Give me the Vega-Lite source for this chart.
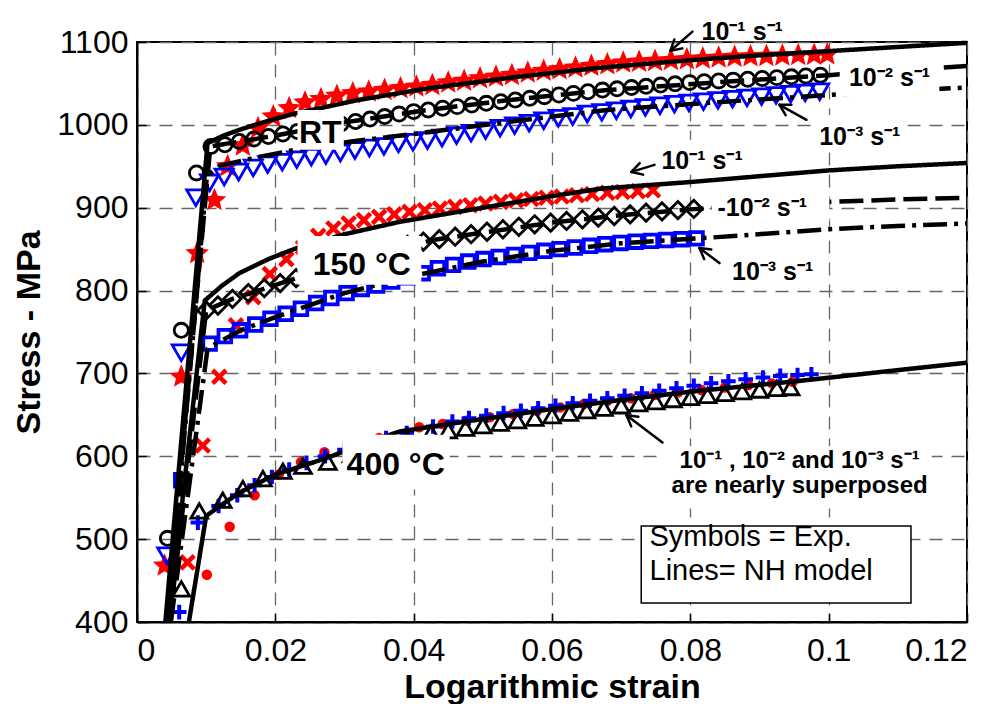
{
  "$schema": "https://vega.github.io/schema/vega-lite/v6.json",
  "width": 830,
  "height": 580,
  "autosize": {"type": "none"},
  "padding": {"left": 137, "top": 42, "right": 38, "bottom": 82},
  "background": "white",
  "config": {
    "view": {"stroke": "black", "strokeWidth": 2},
    "font": "Liberation Sans",
    "axis": {
      "domainColor": "black",
      "domainWidth": 2,
      "tickColor": "black",
      "tickWidth": 1.5,
      "tickSize": -9,
      "labelColor": "black",
      "labelFontSize": 32,
      "labelFont": "Liberation Sans",
      "titleColor": "black",
      "titleFont": "Liberation Sans",
      "titleFontSize": 34,
      "titleFontWeight": "bold",
      "gridColor": "#666666",
      "gridWidth": 1.3,
      "gridDash": [13, 9]
    }
  },
  "datasets": {
    "exp": [
      {"series": "RT 0.1", "strain": 0.0040, "stress": 468},
      {"series": "RT 0.1", "strain": 0.0064, "stress": 696},
      {"series": "RT 0.1", "strain": 0.0087, "stress": 845},
      {"series": "RT 0.1", "strain": 0.0112, "stress": 909},
      {"series": "RT 0.1", "strain": 0.0131, "stress": 950},
      {"series": "RT 0.1", "strain": 0.0153, "stress": 975},
      {"series": "RT 0.1", "strain": 0.0175, "stress": 996},
      {"series": "RT 0.1", "strain": 0.0197, "stress": 1010},
      {"series": "RT 0.1", "strain": 0.0220, "stress": 1020},
      {"series": "RT 0.1", "strain": 0.0243, "stress": 1027},
      {"series": "RT 0.1", "strain": 0.0266, "stress": 1031},
      {"series": "RT 0.1", "strain": 0.0289, "stress": 1035},
      {"series": "RT 0.1", "strain": 0.0312, "stress": 1038},
      {"series": "RT 0.1", "strain": 0.0335, "stress": 1040},
      {"series": "RT 0.1", "strain": 0.0358, "stress": 1042},
      {"series": "RT 0.1", "strain": 0.0381, "stress": 1044},
      {"series": "RT 0.1", "strain": 0.0404, "stress": 1046},
      {"series": "RT 0.1", "strain": 0.0427, "stress": 1048},
      {"series": "RT 0.1", "strain": 0.0450, "stress": 1051},
      {"series": "RT 0.1", "strain": 0.0473, "stress": 1053},
      {"series": "RT 0.1", "strain": 0.0496, "stress": 1056},
      {"series": "RT 0.1", "strain": 0.0519, "stress": 1058},
      {"series": "RT 0.1", "strain": 0.0542, "stress": 1060},
      {"series": "RT 0.1", "strain": 0.0565, "stress": 1063},
      {"series": "RT 0.1", "strain": 0.0588, "stress": 1065},
      {"series": "RT 0.1", "strain": 0.0611, "stress": 1067},
      {"series": "RT 0.1", "strain": 0.0634, "stress": 1069},
      {"series": "RT 0.1", "strain": 0.0657, "stress": 1071},
      {"series": "RT 0.1", "strain": 0.0680, "stress": 1073},
      {"series": "RT 0.1", "strain": 0.0703, "stress": 1075},
      {"series": "RT 0.1", "strain": 0.0726, "stress": 1076},
      {"series": "RT 0.1", "strain": 0.0749, "stress": 1077},
      {"series": "RT 0.1", "strain": 0.0772, "stress": 1078},
      {"series": "RT 0.1", "strain": 0.0795, "stress": 1079},
      {"series": "RT 0.1", "strain": 0.0818, "stress": 1080},
      {"series": "RT 0.1", "strain": 0.0841, "stress": 1081},
      {"series": "RT 0.1", "strain": 0.0864, "stress": 1082},
      {"series": "RT 0.1", "strain": 0.0887, "stress": 1082.5},
      {"series": "RT 0.1", "strain": 0.0910, "stress": 1083},
      {"series": "RT 0.1", "strain": 0.0933, "stress": 1083.5},
      {"series": "RT 0.1", "strain": 0.0956, "stress": 1084},
      {"series": "RT 0.1", "strain": 0.0979, "stress": 1084.5},
      {"series": "RT 0.1", "strain": 0.0998, "stress": 1085},

      {"series": "RT 0.01", "strain": 0.0044, "stress": 501},
      {"series": "RT 0.01", "strain": 0.0064, "stress": 752},
      {"series": "RT 0.01", "strain": 0.0086, "stress": 942},
      {"series": "RT 0.01", "strain": 0.0107, "stress": 974},
      {"series": "RT 0.01", "strain": 0.0127, "stress": 976},
      {"series": "RT 0.01", "strain": 0.0148, "stress": 980},
      {"series": "RT 0.01", "strain": 0.0169, "stress": 983},
      {"series": "RT 0.01", "strain": 0.0190, "stress": 986},
      {"series": "RT 0.01", "strain": 0.0211, "stress": 989},
      {"series": "RT 0.01", "strain": 0.0232, "stress": 992},
      {"series": "RT 0.01", "strain": 0.0253, "stress": 995},
      {"series": "RT 0.01", "strain": 0.0274, "stress": 998},
      {"series": "RT 0.01", "strain": 0.0295, "stress": 1001},
      {"series": "RT 0.01", "strain": 0.0316, "stress": 1004},
      {"series": "RT 0.01", "strain": 0.0337, "stress": 1007},
      {"series": "RT 0.01", "strain": 0.0358, "stress": 1010},
      {"series": "RT 0.01", "strain": 0.0379, "stress": 1013},
      {"series": "RT 0.01", "strain": 0.0400, "stress": 1016},
      {"series": "RT 0.01", "strain": 0.0421, "stress": 1018},
      {"series": "RT 0.01", "strain": 0.0442, "stress": 1020},
      {"series": "RT 0.01", "strain": 0.0463, "stress": 1022},
      {"series": "RT 0.01", "strain": 0.0484, "stress": 1024},
      {"series": "RT 0.01", "strain": 0.0505, "stress": 1026},
      {"series": "RT 0.01", "strain": 0.0526, "stress": 1028},
      {"series": "RT 0.01", "strain": 0.0547, "stress": 1030},
      {"series": "RT 0.01", "strain": 0.0568, "stress": 1032},
      {"series": "RT 0.01", "strain": 0.0589, "stress": 1034},
      {"series": "RT 0.01", "strain": 0.0610, "stress": 1036},
      {"series": "RT 0.01", "strain": 0.0631, "stress": 1038},
      {"series": "RT 0.01", "strain": 0.0652, "stress": 1040},
      {"series": "RT 0.01", "strain": 0.0673, "stress": 1042},
      {"series": "RT 0.01", "strain": 0.0694, "stress": 1043.5},
      {"series": "RT 0.01", "strain": 0.0715, "stress": 1045},
      {"series": "RT 0.01", "strain": 0.0736, "stress": 1046.5},
      {"series": "RT 0.01", "strain": 0.0757, "stress": 1048},
      {"series": "RT 0.01", "strain": 0.0778, "stress": 1049.5},
      {"series": "RT 0.01", "strain": 0.0799, "stress": 1051},
      {"series": "RT 0.01", "strain": 0.0820, "stress": 1052},
      {"series": "RT 0.01", "strain": 0.0841, "stress": 1053},
      {"series": "RT 0.01", "strain": 0.0862, "stress": 1054},
      {"series": "RT 0.01", "strain": 0.0883, "stress": 1055},
      {"series": "RT 0.01", "strain": 0.0904, "stress": 1056},
      {"series": "RT 0.01", "strain": 0.0925, "stress": 1057},
      {"series": "RT 0.01", "strain": 0.0946, "stress": 1058},
      {"series": "RT 0.01", "strain": 0.0967, "stress": 1059},
      {"series": "RT 0.01", "strain": 0.0988, "stress": 1060},

      {"series": "RT 0.001", "strain": 0.0043, "stress": 480},
      {"series": "RT 0.001", "strain": 0.0064, "stress": 725},
      {"series": "RT 0.001", "strain": 0.0085, "stress": 912},
      {"series": "RT 0.001", "strain": 0.0105, "stress": 930},
      {"series": "RT 0.001", "strain": 0.0126, "stress": 937},
      {"series": "RT 0.001", "strain": 0.0147, "stress": 943},
      {"series": "RT 0.001", "strain": 0.0168, "stress": 948},
      {"series": "RT 0.001", "strain": 0.0189, "stress": 952},
      {"series": "RT 0.001", "strain": 0.0210, "stress": 955},
      {"series": "RT 0.001", "strain": 0.0231, "stress": 958},
      {"series": "RT 0.001", "strain": 0.0252, "stress": 961},
      {"series": "RT 0.001", "strain": 0.0273, "stress": 963},
      {"series": "RT 0.001", "strain": 0.0294, "stress": 966},
      {"series": "RT 0.001", "strain": 0.0315, "stress": 969},
      {"series": "RT 0.001", "strain": 0.0336, "stress": 972},
      {"series": "RT 0.001", "strain": 0.0357, "stress": 974},
      {"series": "RT 0.001", "strain": 0.0378, "stress": 977},
      {"series": "RT 0.001", "strain": 0.0399, "stress": 979},
      {"series": "RT 0.001", "strain": 0.0420, "stress": 981},
      {"series": "RT 0.001", "strain": 0.0441, "stress": 984},
      {"series": "RT 0.001", "strain": 0.0462, "stress": 987},
      {"series": "RT 0.001", "strain": 0.0483, "stress": 990},
      {"series": "RT 0.001", "strain": 0.0504, "stress": 993},
      {"series": "RT 0.001", "strain": 0.0525, "stress": 996},
      {"series": "RT 0.001", "strain": 0.0546, "stress": 999},
      {"series": "RT 0.001", "strain": 0.0567, "stress": 1002},
      {"series": "RT 0.001", "strain": 0.0588, "stress": 1005},
      {"series": "RT 0.001", "strain": 0.0609, "stress": 1008},
      {"series": "RT 0.001", "strain": 0.0630, "stress": 1010},
      {"series": "RT 0.001", "strain": 0.0651, "stress": 1013},
      {"series": "RT 0.001", "strain": 0.0672, "stress": 1015},
      {"series": "RT 0.001", "strain": 0.0693, "stress": 1017},
      {"series": "RT 0.001", "strain": 0.0714, "stress": 1019},
      {"series": "RT 0.001", "strain": 0.0735, "stress": 1021},
      {"series": "RT 0.001", "strain": 0.0756, "stress": 1023},
      {"series": "RT 0.001", "strain": 0.0777, "stress": 1025},
      {"series": "RT 0.001", "strain": 0.0798, "stress": 1026.5},
      {"series": "RT 0.001", "strain": 0.0819, "stress": 1028},
      {"series": "RT 0.001", "strain": 0.0840, "stress": 1029.5},
      {"series": "RT 0.001", "strain": 0.0861, "stress": 1031},
      {"series": "RT 0.001", "strain": 0.0882, "stress": 1032.5},
      {"series": "RT 0.001", "strain": 0.0903, "stress": 1034},
      {"series": "RT 0.001", "strain": 0.0924, "stress": 1035.5},
      {"series": "RT 0.001", "strain": 0.0945, "stress": 1037},
      {"series": "RT 0.001", "strain": 0.0966, "stress": 1038.5},
      {"series": "RT 0.001", "strain": 0.0987, "stress": 1040},

      {"series": "150 0.1", "strain": 0.0073, "stress": 472},
      {"series": "150 0.1", "strain": 0.0095, "stress": 613},
      {"series": "150 0.1", "strain": 0.0119, "stress": 696},
      {"series": "150 0.1", "strain": 0.0143, "stress": 758},
      {"series": "150 0.1", "strain": 0.0168, "stress": 792},
      {"series": "150 0.1", "strain": 0.0192, "stress": 820},
      {"series": "150 0.1", "strain": 0.0216, "stress": 838},
      {"series": "150 0.1", "strain": 0.0240, "stress": 852},
      {"series": "150 0.1", "strain": 0.0262, "stress": 866},
      {"series": "150 0.1", "strain": 0.0284, "stress": 875},
      {"series": "150 0.1", "strain": 0.0306, "stress": 881},
      {"series": "150 0.1", "strain": 0.0328, "stress": 885},
      {"series": "150 0.1", "strain": 0.0350, "stress": 889},
      {"series": "150 0.1", "strain": 0.0372, "stress": 892},
      {"series": "150 0.1", "strain": 0.0394, "stress": 895},
      {"series": "150 0.1", "strain": 0.0416, "stress": 897},
      {"series": "150 0.1", "strain": 0.0438, "stress": 899},
      {"series": "150 0.1", "strain": 0.0460, "stress": 901},
      {"series": "150 0.1", "strain": 0.0482, "stress": 903},
      {"series": "150 0.1", "strain": 0.0504, "stress": 905},
      {"series": "150 0.1", "strain": 0.0526, "stress": 907},
      {"series": "150 0.1", "strain": 0.0548, "stress": 909},
      {"series": "150 0.1", "strain": 0.0570, "stress": 910.5},
      {"series": "150 0.1", "strain": 0.0592, "stress": 912},
      {"series": "150 0.1", "strain": 0.0614, "stress": 913.5},
      {"series": "150 0.1", "strain": 0.0636, "stress": 915},
      {"series": "150 0.1", "strain": 0.0658, "stress": 916.5},
      {"series": "150 0.1", "strain": 0.0680, "stress": 918},
      {"series": "150 0.1", "strain": 0.0702, "stress": 919},
      {"series": "150 0.1", "strain": 0.0724, "stress": 920},
      {"series": "150 0.1", "strain": 0.0746, "stress": 921},

      {"series": "150 0.01", "strain": 0.0100, "stress": 776},
      {"series": "150 0.01", "strain": 0.0117, "stress": 782},
      {"series": "150 0.01", "strain": 0.0138, "stress": 790},
      {"series": "150 0.01", "strain": 0.0161, "stress": 797},
      {"series": "150 0.01", "strain": 0.0184, "stress": 803},
      {"series": "150 0.01", "strain": 0.0207, "stress": 809},
      {"series": "150 0.01", "strain": 0.0230, "stress": 815},
      {"series": "150 0.01", "strain": 0.0253, "stress": 821},
      {"series": "150 0.01", "strain": 0.0276, "stress": 827},
      {"series": "150 0.01", "strain": 0.0299, "stress": 833},
      {"series": "150 0.01", "strain": 0.0322, "stress": 839},
      {"series": "150 0.01", "strain": 0.0345, "stress": 845},
      {"series": "150 0.01", "strain": 0.0368, "stress": 850},
      {"series": "150 0.01", "strain": 0.0391, "stress": 855},
      {"series": "150 0.01", "strain": 0.0414, "stress": 859},
      {"series": "150 0.01", "strain": 0.0437, "stress": 862},
      {"series": "150 0.01", "strain": 0.0460, "stress": 865},
      {"series": "150 0.01", "strain": 0.0483, "stress": 868},
      {"series": "150 0.01", "strain": 0.0506, "stress": 871},
      {"series": "150 0.01", "strain": 0.0529, "stress": 874},
      {"series": "150 0.01", "strain": 0.0552, "stress": 877},
      {"series": "150 0.01", "strain": 0.0575, "stress": 880},
      {"series": "150 0.01", "strain": 0.0598, "stress": 882},
      {"series": "150 0.01", "strain": 0.0621, "stress": 884},
      {"series": "150 0.01", "strain": 0.0644, "stress": 886},
      {"series": "150 0.01", "strain": 0.0667, "stress": 888},
      {"series": "150 0.01", "strain": 0.0690, "stress": 890},
      {"series": "150 0.01", "strain": 0.0713, "stress": 892},
      {"series": "150 0.01", "strain": 0.0736, "stress": 894},
      {"series": "150 0.01", "strain": 0.0759, "stress": 895.5},
      {"series": "150 0.01", "strain": 0.0782, "stress": 897},
      {"series": "150 0.01", "strain": 0.0805, "stress": 898.5},

      {"series": "150 0.001", "strain": 0.0064, "stress": 571},
      {"series": "150 0.001", "strain": 0.0105, "stress": 736},
      {"series": "150 0.001", "strain": 0.0127, "stress": 745},
      {"series": "150 0.001", "strain": 0.0149, "stress": 752},
      {"series": "150 0.001", "strain": 0.0171, "stress": 759},
      {"series": "150 0.001", "strain": 0.0193, "stress": 766},
      {"series": "150 0.001", "strain": 0.0215, "stress": 772},
      {"series": "150 0.001", "strain": 0.0237, "stress": 778},
      {"series": "150 0.001", "strain": 0.0259, "stress": 785},
      {"series": "150 0.001", "strain": 0.0281, "stress": 791},
      {"series": "150 0.001", "strain": 0.0303, "stress": 797},
      {"series": "150 0.001", "strain": 0.0325, "stress": 802},
      {"series": "150 0.001", "strain": 0.0347, "stress": 806},
      {"series": "150 0.001", "strain": 0.0369, "stress": 811},
      {"series": "150 0.001", "strain": 0.0391, "stress": 816},
      {"series": "150 0.001", "strain": 0.0413, "stress": 821},
      {"series": "150 0.001", "strain": 0.0435, "stress": 827},
      {"series": "150 0.001", "strain": 0.0457, "stress": 831},
      {"series": "150 0.001", "strain": 0.0479, "stress": 835},
      {"series": "150 0.001", "strain": 0.0501, "stress": 838},
      {"series": "150 0.001", "strain": 0.0523, "stress": 840.5},
      {"series": "150 0.001", "strain": 0.0545, "stress": 843},
      {"series": "150 0.001", "strain": 0.0567, "stress": 845.5},
      {"series": "150 0.001", "strain": 0.0589, "stress": 848},
      {"series": "150 0.001", "strain": 0.0611, "stress": 850},
      {"series": "150 0.001", "strain": 0.0633, "stress": 852},
      {"series": "150 0.001", "strain": 0.0655, "stress": 854},
      {"series": "150 0.001", "strain": 0.0677, "stress": 856},
      {"series": "150 0.001", "strain": 0.0699, "stress": 857.5},
      {"series": "150 0.001", "strain": 0.0721, "stress": 859},
      {"series": "150 0.001", "strain": 0.0743, "stress": 860},
      {"series": "150 0.001", "strain": 0.0765, "stress": 861},
      {"series": "150 0.001", "strain": 0.0787, "stress": 862},
      {"series": "150 0.001", "strain": 0.0809, "stress": 863},

      {"series": "400 0.1", "strain": 0.0101, "stress": 457},
      {"series": "400 0.1", "strain": 0.0134, "stress": 515},
      {"series": "400 0.1", "strain": 0.0170, "stress": 553},
      {"series": "400 0.1", "strain": 0.0205, "stress": 578},
      {"series": "400 0.1", "strain": 0.0237, "stress": 593},
      {"series": "400 0.1", "strain": 0.0271, "stress": 605},
      {"series": "400 0.1", "strain": 0.0310, "stress": 614},
      {"series": "400 0.1", "strain": 0.0350, "stress": 622},
      {"series": "400 0.1", "strain": 0.0408, "stress": 635},
      {"series": "400 0.1", "strain": 0.0442, "stress": 639},
      {"series": "400 0.1", "strain": 0.0476, "stress": 643},
      {"series": "400 0.1", "strain": 0.0510, "stress": 647},
      {"series": "400 0.1", "strain": 0.0544, "stress": 651},
      {"series": "400 0.1", "strain": 0.0578, "stress": 655},
      {"series": "400 0.1", "strain": 0.0612, "stress": 659},
      {"series": "400 0.1", "strain": 0.0646, "stress": 663},
      {"series": "400 0.1", "strain": 0.0680, "stress": 667},
      {"series": "400 0.1", "strain": 0.0714, "stress": 670},
      {"series": "400 0.1", "strain": 0.0748, "stress": 674},
      {"series": "400 0.1", "strain": 0.0782, "stress": 677},
      {"series": "400 0.1", "strain": 0.0816, "stress": 680},
      {"series": "400 0.1", "strain": 0.0850, "stress": 683},
      {"series": "400 0.1", "strain": 0.0884, "stress": 686},
      {"series": "400 0.1", "strain": 0.0918, "stress": 688},
      {"series": "400 0.1", "strain": 0.0948, "stress": 690},

      {"series": "400 0.01", "strain": 0.0061, "stress": 412},
      {"series": "400 0.01", "strain": 0.0088, "stress": 520},
      {"series": "400 0.01", "strain": 0.0118, "stress": 540},
      {"series": "400 0.01", "strain": 0.0145, "stress": 553},
      {"series": "400 0.01", "strain": 0.0170, "stress": 565},
      {"series": "400 0.01", "strain": 0.0195, "stress": 575},
      {"series": "400 0.01", "strain": 0.0220, "stress": 584},
      {"series": "400 0.01", "strain": 0.0245, "stress": 592},
      {"series": "400 0.01", "strain": 0.0272, "stress": 600},
      {"series": "400 0.01", "strain": 0.0300, "stress": 608},
      {"series": "400 0.01", "strain": 0.0330, "stress": 615},
      {"series": "400 0.01", "strain": 0.0360, "stress": 622},
      {"series": "400 0.01", "strain": 0.0390, "stress": 628},
      {"series": "400 0.01", "strain": 0.0428, "stress": 636},
      {"series": "400 0.01", "strain": 0.0456, "stress": 642},
      {"series": "400 0.01", "strain": 0.0480, "stress": 646},
      {"series": "400 0.01", "strain": 0.0505, "stress": 649},
      {"series": "400 0.01", "strain": 0.0530, "stress": 652},
      {"series": "400 0.01", "strain": 0.0555, "stress": 655},
      {"series": "400 0.01", "strain": 0.0580, "stress": 658},
      {"series": "400 0.01", "strain": 0.0605, "stress": 661},
      {"series": "400 0.01", "strain": 0.0630, "stress": 664},
      {"series": "400 0.01", "strain": 0.0655, "stress": 667},
      {"series": "400 0.01", "strain": 0.0680, "stress": 670},
      {"series": "400 0.01", "strain": 0.0705, "stress": 673},
      {"series": "400 0.01", "strain": 0.0730, "stress": 676},
      {"series": "400 0.01", "strain": 0.0755, "stress": 679},
      {"series": "400 0.01", "strain": 0.0780, "stress": 682},
      {"series": "400 0.01", "strain": 0.0805, "stress": 685},
      {"series": "400 0.01", "strain": 0.0830, "stress": 688},
      {"series": "400 0.01", "strain": 0.0855, "stress": 690.5},
      {"series": "400 0.01", "strain": 0.0880, "stress": 693},
      {"series": "400 0.01", "strain": 0.0905, "stress": 695},
      {"series": "400 0.01", "strain": 0.0930, "stress": 697},
      {"series": "400 0.01", "strain": 0.0955, "stress": 698},
      {"series": "400 0.01", "strain": 0.0975, "stress": 699},

      {"series": "400 0.001", "strain": 0.0064, "stress": 440},
      {"series": "400 0.001", "strain": 0.0090, "stress": 534},
      {"series": "400 0.001", "strain": 0.0124, "stress": 547},
      {"series": "400 0.001", "strain": 0.0153, "stress": 561},
      {"series": "400 0.001", "strain": 0.0182, "stress": 573},
      {"series": "400 0.001", "strain": 0.0211, "stress": 582},
      {"series": "400 0.001", "strain": 0.0240, "stress": 588},
      {"series": "400 0.001", "strain": 0.0276, "stress": 593},
      {"series": "400 0.001", "strain": 0.0310, "stress": 602},
      {"series": "400 0.001", "strain": 0.0350, "stress": 612},
      {"series": "400 0.001", "strain": 0.0390, "stress": 621},
      {"series": "400 0.001", "strain": 0.0425, "stress": 628},
      {"series": "400 0.001", "strain": 0.0450, "stress": 631},
      {"series": "400 0.001", "strain": 0.0475, "stress": 634},
      {"series": "400 0.001", "strain": 0.0500, "stress": 637},
      {"series": "400 0.001", "strain": 0.0525, "stress": 640},
      {"series": "400 0.001", "strain": 0.0550, "stress": 643},
      {"series": "400 0.001", "strain": 0.0575, "stress": 646},
      {"series": "400 0.001", "strain": 0.0600, "stress": 649},
      {"series": "400 0.001", "strain": 0.0625, "stress": 652},
      {"series": "400 0.001", "strain": 0.0650, "stress": 655},
      {"series": "400 0.001", "strain": 0.0675, "stress": 658},
      {"series": "400 0.001", "strain": 0.0700, "stress": 661},
      {"series": "400 0.001", "strain": 0.0725, "stress": 663.5},
      {"series": "400 0.001", "strain": 0.0750, "stress": 666},
      {"series": "400 0.001", "strain": 0.0775, "stress": 668.5},
      {"series": "400 0.001", "strain": 0.0800, "stress": 671},
      {"series": "400 0.001", "strain": 0.0825, "stress": 673.5},
      {"series": "400 0.001", "strain": 0.0850, "stress": 676},
      {"series": "400 0.001", "strain": 0.0875, "stress": 678},
      {"series": "400 0.001", "strain": 0.0900, "stress": 680},
      {"series": "400 0.001", "strain": 0.0925, "stress": 682},
      {"series": "400 0.001", "strain": 0.0945, "stress": 683}
    ],
    "model": [
      {"curve": "RT 0.1", "rate": "0.1", "strain": 0.0041, "stress": 400},
      {"curve": "RT 0.1", "rate": "0.1", "strain": 0.0102, "stress": 978},
      {"curve": "RT 0.1", "rate": "0.1", "strain": 0.0125, "stress": 987},
      {"curve": "RT 0.1", "rate": "0.1", "strain": 0.0148, "stress": 994},
      {"curve": "RT 0.1", "rate": "0.1", "strain": 0.0190, "stress": 1005},
      {"curve": "RT 0.1", "rate": "0.1", "strain": 0.0230, "stress": 1014},
      {"curve": "RT 0.1", "rate": "0.1", "strain": 0.0320, "stress": 1030},
      {"curve": "RT 0.1", "rate": "0.1", "strain": 0.0420, "stress": 1044},
      {"curve": "RT 0.1", "rate": "0.1", "strain": 0.0550, "stress": 1058},
      {"curve": "RT 0.1", "rate": "0.1", "strain": 0.0670, "stress": 1069},
      {"curve": "RT 0.1", "rate": "0.1", "strain": 0.0800, "stress": 1078},
      {"curve": "RT 0.1", "rate": "0.1", "strain": 0.0900, "stress": 1084},
      {"curve": "RT 0.1", "rate": "0.1", "strain": 0.1000, "stress": 1089},
      {"curve": "RT 0.1", "rate": "0.1", "strain": 0.1100, "stress": 1094},
      {"curve": "RT 0.1", "rate": "0.1", "strain": 0.1200, "stress": 1099},

      {"curve": "RT 0.01", "rate": "0.01", "strain": 0.0043, "stress": 400},
      {"curve": "RT 0.01", "rate": "0.01", "strain": 0.0106, "stress": 974},
      {"curve": "RT 0.01", "rate": "0.01", "strain": 0.0150, "stress": 980},
      {"curve": "RT 0.01", "rate": "0.01", "strain": 0.0200, "stress": 987},
      {"curve": "RT 0.01", "rate": "0.01", "strain": 0.0300, "stress": 1003},
      {"curve": "RT 0.01", "rate": "0.01", "strain": 0.0420, "stress": 1018},
      {"curve": "RT 0.01", "rate": "0.01", "strain": 0.0550, "stress": 1031},
      {"curve": "RT 0.01", "rate": "0.01", "strain": 0.0680, "stress": 1042},
      {"curve": "RT 0.01", "rate": "0.01", "strain": 0.0850, "stress": 1052},
      {"curve": "RT 0.01", "rate": "0.01", "strain": 0.1000, "stress": 1060},
      {"curve": "RT 0.01", "rate": "0.01", "strain": 0.1100, "stress": 1066},
      {"curve": "RT 0.01", "rate": "0.01", "strain": 0.1200, "stress": 1071},

      {"curve": "RT 0.001", "rate": "0.001", "strain": 0.0045, "stress": 400},
      {"curve": "RT 0.001", "rate": "0.001", "strain": 0.0101, "stress": 938},
      {"curve": "RT 0.001", "rate": "0.001", "strain": 0.0120, "stress": 951},
      {"curve": "RT 0.001", "rate": "0.001", "strain": 0.0180, "stress": 962},
      {"curve": "RT 0.001", "rate": "0.001", "strain": 0.0230, "stress": 970},
      {"curve": "RT 0.001", "rate": "0.001", "strain": 0.0310, "stress": 980},
      {"curve": "RT 0.001", "rate": "0.001", "strain": 0.0410, "stress": 990},
      {"curve": "RT 0.001", "rate": "0.001", "strain": 0.0550, "stress": 1005},
      {"curve": "RT 0.001", "rate": "0.001", "strain": 0.0680, "stress": 1018},
      {"curve": "RT 0.001", "rate": "0.001", "strain": 0.0850, "stress": 1028},
      {"curve": "RT 0.001", "rate": "0.001", "strain": 0.1000, "stress": 1036},
      {"curve": "RT 0.001", "rate": "0.001", "strain": 0.1100, "stress": 1041},
      {"curve": "RT 0.001", "rate": "0.001", "strain": 0.1200, "stress": 1045},

      {"curve": "150 0.1", "rate": "0.1", "strain": 0.0046, "stress": 400},
      {"curve": "150 0.1", "rate": "0.1", "strain": 0.0098, "stress": 788},
      {"curve": "150 0.1", "rate": "0.1", "strain": 0.0123, "stress": 806},
      {"curve": "150 0.1", "rate": "0.1", "strain": 0.0148, "stress": 821},
      {"curve": "150 0.1", "rate": "0.1", "strain": 0.0190, "stress": 838},
      {"curve": "150 0.1", "rate": "0.1", "strain": 0.0230, "stress": 851},
      {"curve": "150 0.1", "rate": "0.1", "strain": 0.0300, "stress": 868},
      {"curve": "150 0.1", "rate": "0.1", "strain": 0.0380, "stress": 883},
      {"curve": "150 0.1", "rate": "0.1", "strain": 0.0500, "stress": 900},
      {"curve": "150 0.1", "rate": "0.1", "strain": 0.0600, "stress": 914},
      {"curve": "150 0.1", "rate": "0.1", "strain": 0.0670, "stress": 923},
      {"curve": "150 0.1", "rate": "0.1", "strain": 0.0800, "stress": 931},
      {"curve": "150 0.1", "rate": "0.1", "strain": 0.0900, "stress": 938},
      {"curve": "150 0.1", "rate": "0.1", "strain": 0.1000, "stress": 945},
      {"curve": "150 0.1", "rate": "0.1", "strain": 0.1100, "stress": 950},
      {"curve": "150 0.1", "rate": "0.1", "strain": 0.1200, "stress": 954},

      {"curve": "150 0.01", "rate": "0.01", "strain": 0.0047, "stress": 400},
      {"curve": "150 0.01", "rate": "0.01", "strain": 0.0100, "stress": 776},
      {"curve": "150 0.01", "rate": "0.01", "strain": 0.0138, "stress": 790},
      {"curve": "150 0.01", "rate": "0.01", "strain": 0.0187, "stress": 803},
      {"curve": "150 0.01", "rate": "0.01", "strain": 0.0230, "stress": 815},
      {"curve": "150 0.01", "rate": "0.01", "strain": 0.0300, "stress": 833},
      {"curve": "150 0.01", "rate": "0.01", "strain": 0.0428, "stress": 861},
      {"curve": "150 0.01", "rate": "0.01", "strain": 0.0500, "stress": 870},
      {"curve": "150 0.01", "rate": "0.01", "strain": 0.0600, "stress": 882},
      {"curve": "150 0.01", "rate": "0.01", "strain": 0.0700, "stress": 891},
      {"curve": "150 0.01", "rate": "0.01", "strain": 0.0800, "stress": 898},
      {"curve": "150 0.01", "rate": "0.01", "strain": 0.0900, "stress": 903},
      {"curve": "150 0.01", "rate": "0.01", "strain": 0.1000, "stress": 907},
      {"curve": "150 0.01", "rate": "0.01", "strain": 0.1100, "stress": 910},
      {"curve": "150 0.01", "rate": "0.01", "strain": 0.1200, "stress": 912},

      {"curve": "150 0.001", "rate": "0.001", "strain": 0.0049, "stress": 400},
      {"curve": "150 0.001", "rate": "0.001", "strain": 0.0102, "stress": 730},
      {"curve": "150 0.001", "rate": "0.001", "strain": 0.0114, "stress": 736},
      {"curve": "150 0.001", "rate": "0.001", "strain": 0.0150, "stress": 752},
      {"curve": "150 0.001", "rate": "0.001", "strain": 0.0200, "stress": 768},
      {"curve": "150 0.001", "rate": "0.001", "strain": 0.0300, "stress": 797},
      {"curve": "150 0.001", "rate": "0.001", "strain": 0.0400, "stress": 818},
      {"curve": "150 0.001", "rate": "0.001", "strain": 0.0500, "stress": 835},
      {"curve": "150 0.001", "rate": "0.001", "strain": 0.0600, "stress": 848},
      {"curve": "150 0.001", "rate": "0.001", "strain": 0.0700, "stress": 857},
      {"curve": "150 0.001", "rate": "0.001", "strain": 0.0830, "stress": 864},
      {"curve": "150 0.001", "rate": "0.001", "strain": 0.1000, "stress": 874},
      {"curve": "150 0.001", "rate": "0.001", "strain": 0.1100, "stress": 878},
      {"curve": "150 0.001", "rate": "0.001", "strain": 0.1200, "stress": 881},

      {"curve": "400 0.1", "rate": "0.1", "strain": 0.0075, "stress": 400},
      {"curve": "400 0.1", "rate": "0.1", "strain": 0.0100, "stress": 528},
      {"curve": "400 0.1", "rate": "0.1", "strain": 0.0125, "stress": 543},
      {"curve": "400 0.1", "rate": "0.1", "strain": 0.0150, "stress": 557},
      {"curve": "400 0.1", "rate": "0.1", "strain": 0.0200, "stress": 578},
      {"curve": "400 0.1", "rate": "0.1", "strain": 0.0245, "stress": 590},
      {"curve": "400 0.1", "rate": "0.1", "strain": 0.0278, "stress": 599},
      {"curve": "400 0.1", "rate": "0.1", "strain": 0.0330, "stress": 616},
      {"curve": "400 0.1", "rate": "0.1", "strain": 0.0380, "stress": 630},
      {"curve": "400 0.1", "rate": "0.1", "strain": 0.0500, "stress": 645},
      {"curve": "400 0.1", "rate": "0.1", "strain": 0.0600, "stress": 657},
      {"curve": "400 0.1", "rate": "0.1", "strain": 0.0700, "stress": 668},
      {"curve": "400 0.1", "rate": "0.1", "strain": 0.0800, "stress": 678},
      {"curve": "400 0.1", "rate": "0.1", "strain": 0.0958, "stress": 691},
      {"curve": "400 0.1", "rate": "0.1", "strain": 0.1100, "stress": 704},
      {"curve": "400 0.1", "rate": "0.1", "strain": 0.1200, "stress": 713}
    ],
    "boxes": [
      {"strain": 0.0808, "strain2": 0.0949, "stress": 1101, "stress2": 1137},
      {"strain": 0.1016, "strain2": 0.1160, "stress": 1034, "stress2": 1082},
      {"strain": 0.0975, "strain2": 0.1114, "stress": 967, "stress2": 1012},
      {"strain": 0.0232, "strain2": 0.0299, "stress": 970, "stress2": 1018},
      {"strain": 0.0745, "strain2": 0.0888, "stress": 940, "stress2": 982},
      {"strain": 0.0831, "strain2": 0.1001, "stress": 883, "stress2": 921},
      {"strain": 0.0849, "strain2": 0.0990, "stress": 809, "stress2": 849},
      {"strain": 0.0232, "strain2": 0.0411, "stress": 807, "stress2": 866},
      {"strain": 0.0297, "strain2": 0.0452, "stress": 560, "stress2": 626},
      {"strain": 0.0763, "strain2": 0.1149, "stress": 537, "stress2": 612}
    ],
    "legendBox": [
      {"strain": 0.0729, "strain2": 0.1119, "stress": 423, "stress2": 516}
    ],
    "arrows": [
      {"strain": 0.08031, "stress": 1112.5, "strain2": 0.07713, "stress2": 1089.5},
      {"strain": 0.07713, "stress": 1089.5, "strain2": 0.07884, "stress2": 1092.3},
      {"strain": 0.07713, "stress": 1089.5, "strain2": 0.07769, "stress2": 1103.1},
      {"strain": 0.09679, "stress": 1006.1, "strain2": 0.09289, "stress2": 1024.2},
      {"strain": 0.09289, "stress": 1024.2, "strain2": 0.09378, "stress2": 1011.7},
      {"strain": 0.09289, "stress": 1024.2, "strain2": 0.09462, "stress2": 1024.4},
      {"strain": 0.07482, "stress": 951.7, "strain2": 0.07149, "stress2": 943.2},
      {"strain": 0.07149, "stress": 943.2, "strain2": 0.07318, "stress2": 939.9},
      {"strain": 0.07149, "stress": 943.2, "strain2": 0.07268, "stress2": 953.8},
      {"strain": 0.08421, "stress": 833.2, "strain2": 0.08132, "stress2": 851.3},
      {"strain": 0.08132, "stress": 851.3, "strain2": 0.08200, "stress2": 838.0},
      {"strain": 0.08132, "stress": 851.3, "strain2": 0.08304, "stress2": 849.6},
      {"strain": 0.07597, "stress": 616.7, "strain2": 0.07077, "stress2": 649.4},
      {"strain": 0.07077, "stress": 649.4, "strain2": 0.07145, "stress2": 636.1},
      {"strain": 0.07077, "stress": 649.4, "strain2": 0.07249, "stress2": 647.7}
    ],
    "notes": [
      {"kind": "rate", "label": "10⁻¹  s⁻¹", "strain": 0.0875, "stress": 1111.8},
      {"kind": "rate", "label": "10⁻²  s⁻¹", "strain": 0.1088, "stress": 1057},
      {"kind": "rate", "label": "10⁻³  s⁻¹", "strain": 0.1045, "stress": 985},
      {"kind": "rate", "label": "10⁻¹  s⁻¹", "strain": 0.0817, "stress": 956},
      {"kind": "rate", "label": "-10⁻²  s⁻¹", "strain": 0.0904, "stress": 900},
      {"kind": "rate", "label": "10⁻³  s⁻¹", "strain": 0.0919, "stress": 823},
      {"kind": "pair", "label": "10⁻¹ , 10⁻²  and 10⁻³  s⁻¹\nare nearly superposed", "strain": 0.0958, "stress": 594},
      {"kind": "temp", "label": "RT", "strain": 0.0265, "stress": 990},
      {"kind": "temp", "label": "150 °C", "strain": 0.0325, "stress": 831},
      {"kind": "temp", "label": "400 °C", "strain": 0.0374, "stress": 589.5},
      {"kind": "key", "label": "Symbols = Exp.", "strain": 0.0741, "stress": 503},
      {"kind": "key", "label": "Lines= NH model", "strain": 0.0741, "stress": 462}
    ]
  },
  "encoding": {
    "x": {
      "field": "strain",
      "type": "quantitative",
      "scale": {"domain": [0, 0.12], "nice": false, "zero": false},
      "axis": {
        "title": "Logarithmic strain",
        "values": [0, 0.02, 0.04, 0.06, 0.08, 0.1, 0.12],
        "format": ".2~f",
        "grid": true,
        "labelPadding": 22,
        "titlePadding": 4
      }
    },
    "y": {
      "field": "stress",
      "type": "quantitative",
      "scale": {"domain": [400, 1100], "nice": false, "zero": false},
      "axis": {
        "title": "Stress - MPa",
        "values": [400, 500, 600, 700, 800, 900, 1000, 1100],
        "format": "d",
        "grid": true,
        "labelPadding": 18,
        "titlePadding": 10
      }
    }
  },
  "layer": [
    {
      "data": {"name": "exp"},
      "transform": [{"filter": {"field": "series", "equal": "RT 0.1"}}],
      "mark": {"type": "point", "shape": "M0,-1L0.264,-0.364L0.951,-0.309L0.428,0.139L0.588,0.809L0,0.45L-0.588,0.809L-0.428,0.139L-0.951,-0.309L-0.264,-0.364Z", "filled": true, "color": "#ff0000", "opacity": 1, "size": 620}
    },
    {
      "data": {"name": "exp"},
      "transform": [{"filter": {"field": "series", "equal": "RT 0.01"}}],
      "mark": {"type": "point", "shape": "circle", "filled": false, "color": "#000000", "opacity": 1, "strokeWidth": 2.8, "size": 200}
    },
    {
      "data": {"name": "exp"},
      "transform": [{"filter": {"field": "series", "equal": "RT 0.001"}}],
      "mark": {"type": "point", "shape": "triangle-down", "filled": false, "color": "#0000ff", "opacity": 1, "strokeWidth": 2.8, "size": 330}
    },
    {
      "data": {"name": "exp"},
      "transform": [{"filter": {"field": "series", "equal": "150 0.1"}}],
      "mark": {"type": "point", "shape": "M-1,-1L1,1M-1,1L1,-1", "filled": false, "color": "#ff0000", "opacity": 1, "strokeWidth": 4.5, "size": 180}
    },
    {
      "data": {"name": "exp"},
      "transform": [{"filter": {"field": "series", "equal": "150 0.01"}}],
      "mark": {"type": "point", "shape": "M0,-1L1,0L0,1L-1,0Z", "filled": false, "color": "#000000", "opacity": 1, "strokeWidth": 2.8, "size": 300}
    },
    {
      "data": {"name": "exp"},
      "transform": [{"filter": {"field": "series", "equal": "150 0.001"}}],
      "mark": {"type": "point", "shape": "square", "filled": false, "color": "#0000ff", "opacity": 1, "strokeWidth": 3.8, "size": 160}
    },
    {
      "data": {"name": "exp"},
      "transform": [{"filter": {"field": "series", "equal": "400 0.1"}}],
      "mark": {"type": "point", "shape": "circle", "filled": true, "color": "#ff0000", "opacity": 1, "size": 110}
    },
    {
      "data": {"name": "exp"},
      "transform": [{"filter": {"field": "series", "equal": "400 0.01"}}],
      "mark": {"type": "point", "shape": "M-1,0L1,0M0,-1L0,1", "filled": false, "color": "#0000ff", "opacity": 1, "strokeWidth": 4, "size": 215}
    },
    {
      "data": {"name": "exp"},
      "transform": [{"filter": {"field": "series", "equal": "400 0.001"}}],
      "mark": {"type": "point", "shape": "triangle-up", "filled": false, "color": "#000000", "opacity": 1, "strokeWidth": 2.8, "size": 280}
    },
    {
      "data": {"name": "model"},
      "mark": {"type": "line", "color": "black", "strokeWidth": 4.5, "strokeCap": "butt"},
      "encoding": {
        "detail": {"field": "curve", "type": "nominal"},
        "strokeDash": {
          "field": "rate", "type": "nominal", "legend": null,
          "scale": {"domain": ["0.1", "0.01", "0.001"], "range": [[1, 0], [24, 8], [24, 7, 4, 7]]}
        }
      }
    },
    {
      "data": {"name": "boxes"},
      "mark": {"type": "rect", "fill": "white"},
      "encoding": {
        "x2": {"field": "strain2"},
        "y2": {"field": "stress2"}
      }
    },
    {
      "data": {"name": "legendBox"},
      "mark": {"type": "rect", "fill": "white", "stroke": "black", "strokeWidth": 1.5},
      "encoding": {
        "x2": {"field": "strain2"},
        "y2": {"field": "stress2"}
      }
    },
    {
      "data": {"name": "arrows"},
      "mark": {"type": "rule", "color": "black", "strokeWidth": 2.5, "strokeCap": "round"},
      "encoding": {
        "x2": {"field": "strain2"},
        "y2": {"field": "stress2"}
      }
    },
    {
      "data": {"name": "notes"},
      "transform": [{"filter": "datum.kind === 'rate'"}],
      "mark": {"type": "text", "font": "Liberation Sans", "fontWeight": "bold", "fontSize": 25, "align": "center", "baseline": "middle", "color": "black"},
      "encoding": {"text": {"field": "label"}}
    },
    {
      "data": {"name": "notes"},
      "transform": [{"filter": "datum.kind === 'pair'"}],
      "mark": {"type": "text", "font": "Liberation Sans", "fontWeight": "bold", "fontSize": 24, "lineHeight": 25, "lineBreak": "\n", "align": "center", "baseline": "middle", "color": "black"},
      "encoding": {"text": {"field": "label"}}
    },
    {
      "data": {"name": "notes"},
      "transform": [{"filter": "datum.kind === 'temp'"}],
      "mark": {"type": "text", "font": "Liberation Sans", "fontWeight": "bold", "fontSize": 32, "align": "center", "baseline": "middle", "color": "black"},
      "encoding": {"text": {"field": "label"}}
    },
    {
      "data": {"name": "notes"},
      "transform": [{"filter": "datum.kind === 'key'"}],
      "mark": {"type": "text", "font": "Liberation Sans", "fontSize": 29, "align": "left", "baseline": "middle", "color": "black"},
      "encoding": {"text": {"field": "label"}}
    }
  ]
}
